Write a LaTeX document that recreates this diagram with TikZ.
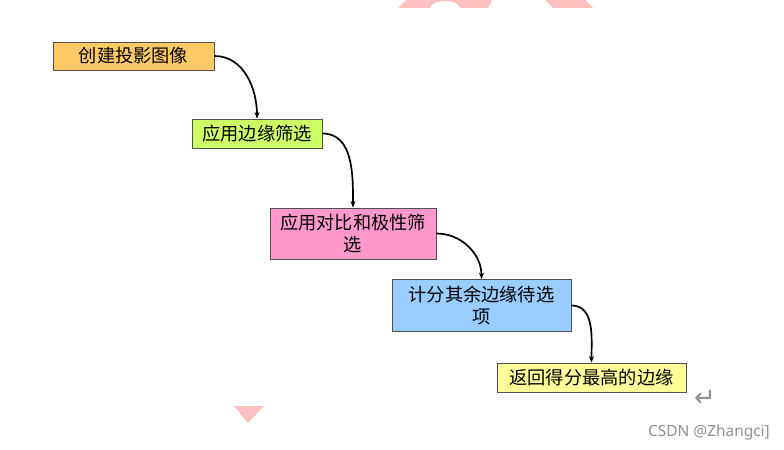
\documentclass[tikz,border=0pt]{standalone}
\usepackage{fontspec}
\setmainfont{Noto Sans CJK SC}
\newfontfamily\symfont{DejaVu Sans}
\newfontfamily\wmfont{Noto Sans}
\usetikzlibrary{arrows.meta}
\definecolor{cOrange}{HTML}{FFC966}
\definecolor{cGreen}{HTML}{CCFF66}
\definecolor{cPink}{HTML}{FF99CC}
\definecolor{cBlue}{HTML}{99CCFF}
\definecolor{cYellow}{HTML}{FFFF99}
\definecolor{cBorder}{HTML}{505050}
\definecolor{cWm}{HTML}{FFBFBF}
\definecolor{cGray}{HTML}{909090}
\begin{document}
\begin{tikzpicture}[x=1bp,y=-1bp,
  boxstyle/.style={draw=cBorder, line width=0.8bp, inner sep=0pt, align=center,
    font=\fontsize{18.3}{22}\selectfont},
  conn/.style={line width=1.7bp, -{Stealth[length=6.5bp,width=5bp]}}]
\useasboundingbox (0,0) rectangle (784,450);
% watermark shapes
\fill[cWm] (398,8) -- (406,0) -- (492,0) -- (488,8) -- (460,8) arc[start angle=0,end angle=180,x radius=15,y radius=-7] -- cycle;
\fill[cWm] (553,8) -- (545,0) -- (585,0) -- (593,8) -- cycle;
\fill[cWm] (234,406) -- (264,406) -- (248,423) -- cycle;
% boxes
\node[boxstyle, fill=cOrange, minimum width=161bp, minimum height=28bp] (b1) at (133.5,56) {创建投影图像};
\node[boxstyle, fill=cGreen, minimum width=130bp, minimum height=29bp] (b2) at (257,133.5) {应用边缘筛选};
\node[boxstyle, fill=cPink, minimum width=166bp, minimum height=51bp] (b3) at (353,233.5) {应用对比和极性筛\\选};
\node[boxstyle, fill=cBlue, minimum width=179bp, minimum height=52bp] (b4) at (481.5,305.5) {计分其余边缘待选\\项};
\node[boxstyle, fill=cYellow, minimum width=189bp, minimum height=29bp] (b5) at (591.5,377.5) {返回得分最高的边缘};
% connectors
\draw[conn] (b1.east) to[out=0,in=90] (b2.north);
\draw[conn] (b2.east) to[out=0,in=90] (b3.north);
\draw[conn] (b3.east) to[out=0,in=90] (b4.north);
\draw[conn] (b4.east) to[out=0,in=90] (b5.north);
% marks
\node[text=cGray, inner sep=0pt, font=\symfont\fontsize{26}{26}\selectfont] (ret) at (705,398) {↵};
\node[text=cGray, inner sep=0pt, anchor=east, font=\wmfont\fontsize{15.5}{15.5}\selectfont] (wm) at (770,432) {CSDN @Zhangci]};
\end{tikzpicture}
\end{document}
